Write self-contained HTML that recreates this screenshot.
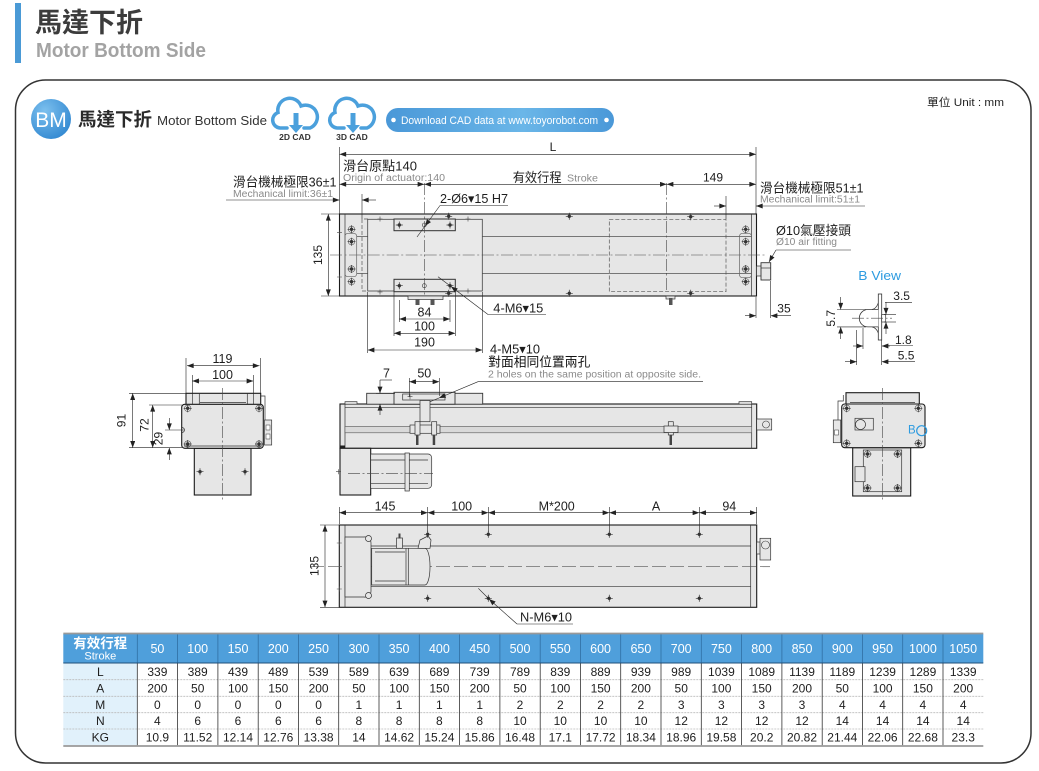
<!DOCTYPE html>
<html><head><meta charset="utf-8"><style>
html,body{margin:0;padding:0;background:#fff;}
svg{display:block;}
text{font-family:"Liberation Sans","Noto Sans CJK TC",sans-serif;fill:#1e1e1e;}
.o{stroke:#1a1a1a;stroke-width:1.1;fill:#e6e6e6;}
.t{stroke:#333;stroke-width:0.7;fill:none;}
.tf{stroke:#333;stroke-width:0.7;fill:#e6e6e6;}
.d{stroke:#222;stroke-width:0.6;fill:none;}
.c{stroke:#444;stroke-width:0.6;stroke-dasharray:12 2.5 2 2.5;fill:none;}
.ds{stroke:#555;stroke-width:0.7;stroke-dasharray:4 2;fill:none;}
.g{fill:#8a8a8a;}
.w{fill:#fff;}
</style></head><body>
<svg width="1039" height="771" viewBox="0 0 1039 771" xmlns="http://www.w3.org/2000/svg">
<defs>
<marker id="a" viewBox="0 0 8 6" refX="8" refY="3" markerWidth="7" markerHeight="5" markerUnits="userSpaceOnUse" orient="auto-start-reverse"><path d="M0,0L8,3L0,6z" fill="#222"/></marker>
<g id="h"><circle r="1.7" fill="#333"/><path d="M-3.5,0H3.5M0,-3.5V3.5" stroke="#333" stroke-width="0.7"/></g>
<g id="hr"><circle r="3.2" fill="none" stroke="#555" stroke-width="0.6"/><circle r="1.7" fill="#333"/><path d="M-4,0H4M0,-4V4" stroke="#333" stroke-width="0.7"/></g>
<g id="x"><path d="M-2.5,0H2.5M0,-2.5V2.5" stroke="#444" stroke-width="0.6"/></g>
<radialGradient id="bm" cx="0.35" cy="0.3" r="0.8"><stop offset="0" stop-color="#7cc0ee"/><stop offset="1" stop-color="#2f86d0"/></radialGradient>
<linearGradient id="pill" x1="0" x2="1" y1="0" y2="0"><stop offset="0" stop-color="#4a98d8"/><stop offset="0.6" stop-color="#6ab6e8"/><stop offset="1" stop-color="#4a98d8"/></linearGradient>
</defs>

<!-- Header -->
<rect x="15" y="3" width="6" height="60" fill="#4a9ad6"/>
<text x="35" y="32" font-size="27" font-weight="bold" fill="#3c3c3c" style="fill:#3c3c3c">馬達下折</text>
<text x="36" y="57" font-size="20" font-weight="bold" style="fill:#a3a3a3" textLength="170" lengthAdjust="spacingAndGlyphs">Motor Bottom Side</text>

<!-- Frame -->
<rect x="15.5" y="80" width="1015.5" height="683" rx="30" fill="none" stroke="#333" stroke-width="1.5"/>
<text x="927" y="106" font-size="11" textLength="77" lengthAdjust="spacingAndGlyphs">單位 Unit : mm</text>

<!-- BM row -->
<circle cx="51" cy="119" r="20" fill="url(#bm)"/>
<text x="51" y="127" font-size="21" text-anchor="middle" class="w" style="fill:#fff">BM</text>
<text x="78" y="126" font-size="18.5" font-weight="bold" style="fill:#2a2a2a">馬達下折</text>
<text x="157" y="125" font-size="13" style="fill:#333" textLength="110" lengthAdjust="spacingAndGlyphs">Motor Bottom Side</text>
<g stroke="#4ba0dc" stroke-width="3.5" fill="none" stroke-linecap="round">
<path d="M287,128H280A8,8 0 0 1 278,112.5A12,12 0 0 1 301,106A11,11 0 0 1 310,128H304"/>
<path transform="translate(57,0)" d="M287,128H280A8,8 0 0 1 278,112.5A12,12 0 0 1 301,106A11,11 0 0 1 310,128H304"/>
</g>
<g fill="#4ba0dc">
<rect x="293.5" y="113" width="5" height="13"/><path d="M289,125H303L296,133z"/>
<rect x="350.5" y="113" width="5" height="13"/><path d="M346,125H360L353,133z"/>
</g>
<text x="295" y="140" font-size="8.5" font-weight="bold" text-anchor="middle" style="fill:#333">2D CAD</text>
<text x="352" y="140" font-size="8.5" font-weight="bold" text-anchor="middle" style="fill:#333">3D CAD</text>
<rect x="386" y="108" width="228" height="24" rx="12" fill="url(#pill)"/>
<circle cx="393.5" cy="120" r="2.3" fill="#fff"/><circle cx="606.5" cy="120" r="2.3" fill="#fff"/>
<text x="401" y="124" font-size="11" style="fill:#fff" textLength="197" lengthAdjust="spacingAndGlyphs">Download CAD data at www.toyorobot.com</text>

<!-- ============ TOP VIEW ============ -->
<rect class="o" x="339.5" y="214" width="417" height="82"/>
<line class="t" x1="345" y1="214" x2="345" y2="296"/>
<line class="t" x1="751.5" y1="214" x2="751.5" y2="296"/>
<line class="t" x1="357" y1="236.7" x2="751.5" y2="236.7"/>
<line class="t" x1="357" y1="273.3" x2="751.5" y2="273.3"/>
<line class="c" x1="330" y1="255" x2="766" y2="255"/>
<path class="ds" d="M368,219H362V291H368"/>
<rect class="ds" x="609.3" y="219.3" width="116.7" height="72.4"/>
<rect x="367.7" y="219.3" width="114.6" height="71.7" fill="#e9e9e9" stroke="#444" stroke-width="0.8"/>
<line class="c" x1="367.7" y1="255" x2="482.3" y2="255"/>
<rect class="tf" x="394" y="219" width="61.3" height="11.7" style="stroke-width:1"/>
<rect class="tf" x="394" y="279.3" width="61.3" height="12.4" style="stroke-width:1"/>
<line class="c" x1="424.3" y1="183" x2="424.3" y2="296"/>
<line class="c" x1="666.7" y1="183" x2="666.7" y2="292"/>
<use href="#h" x="399.3" y="225"/><use href="#h" x="450" y="225"/>
<use href="#h" x="399.3" y="285.7"/><use href="#h" x="450" y="285.7"/>
<circle cx="424.3" cy="225" r="2" fill="none" stroke="#333" stroke-width="0.6"/>
<circle cx="424.3" cy="285.7" r="2" fill="none" stroke="#333" stroke-width="0.6"/>
<use href="#x" x="380" y="219"/><use href="#x" x="468" y="219"/><use href="#h" x="448.7" y="216.3"/>
<use href="#x" x="380" y="292"/><use href="#x" x="468" y="291"/><use href="#h" x="448.7" y="293.3"/>
<use href="#h" x="569.3" y="216.3"/><use href="#h" x="569.3" y="293.3"/>
<use href="#h" x="690.7" y="216.7"/><use href="#h" x="690.7" y="293.3"/>
<rect x="345" y="233.3" width="11.7" height="43.4" rx="3" fill="none" stroke="#666" stroke-width="0.7"/>
<rect x="739.5" y="233.3" width="12" height="44.4" rx="3" fill="none" stroke="#666" stroke-width="0.7"/>
<use href="#hr" x="351.5" y="229.3"/><use href="#hr" x="351.5" y="241.7"/><use href="#hr" x="351.5" y="269"/><use href="#hr" x="351.5" y="281.7"/>
<use href="#hr" x="745.7" y="229.3"/><use href="#hr" x="745.7" y="241.7"/><use href="#hr" x="745.7" y="269"/><use href="#hr" x="745.7" y="281.7"/>
<use href="#x" x="339.5" y="232.7"/><use href="#x" x="339.5" y="277"/>
<!-- air fitting -->
<rect class="tf" x="756.5" y="266" width="5" height="10"/>
<rect class="tf" x="761" y="262.7" width="9.7" height="17.3" style="stroke-width:0.9"/>
<line class="t" x1="761" y1="268" x2="770.7" y2="268"/>
<!-- bottom protrusions -->
<rect class="tf" x="408" y="296" width="35" height="3.5"/>
<rect x="415.5" y="299" width="4" height="6" fill="#555"/><rect x="430.5" y="299" width="4" height="6" fill="#555"/>
<rect class="tf" x="666" y="296" width="9" height="3"/><rect x="669" y="298" width="3.5" height="7" fill="#555"/>

<!-- top view dims -->
<line class="d" x1="339.5" y1="147" x2="339.5" y2="214"/>
<line class="d" x1="756" y1="147" x2="756" y2="214"/>
<line class="d" x1="339.5" y1="154.3" x2="756" y2="154.3" marker-start="url(#a)" marker-end="url(#a)"/>
<text x="553" y="151" font-size="12" text-anchor="middle">L</text>
<line class="d" x1="339.5" y1="184.3" x2="424.3" y2="184.3" marker-start="url(#a)" marker-end="url(#a)"/>
<line class="d" x1="424.3" y1="184.3" x2="666.7" y2="184.3" marker-start="url(#a)" marker-end="url(#a)"/>
<line class="d" x1="666.7" y1="184.3" x2="756" y2="184.3" marker-start="url(#a)" marker-end="url(#a)"/>
<text x="343" y="170.5" font-size="13" textLength="74" lengthAdjust="spacingAndGlyphs">滑台原點140</text>
<text x="343" y="181" font-size="10" class="g" style="fill:#8a8a8a" textLength="102" lengthAdjust="spacingAndGlyphs">Origin of actuator:140</text>
<text x="512.7" y="182" font-size="13" textLength="49" lengthAdjust="spacingAndGlyphs">有效行程</text>
<text x="567" y="181.5" font-size="10" style="fill:#8a8a8a" textLength="31" lengthAdjust="spacingAndGlyphs">Stroke</text>
<text x="713" y="181.5" font-size="12" text-anchor="middle">149</text>
<text x="233" y="186.7" font-size="13" textLength="103.5" lengthAdjust="spacingAndGlyphs">滑台機械極限36±1</text>
<text x="233" y="197" font-size="10" style="fill:#8a8a8a" textLength="100" lengthAdjust="spacingAndGlyphs">Mechanical limit:36±1</text>
<line class="d" x1="226" y1="200" x2="339.5" y2="200" marker-end="url(#a)"/>
<line class="d" x1="376" y1="200" x2="362" y2="200" marker-end="url(#a)"/>
<line class="d" x1="362" y1="194" x2="362" y2="219"/>
<text x="760" y="192.3" font-size="13" textLength="103.5" lengthAdjust="spacingAndGlyphs">滑台機械極限51±1</text>
<text x="760" y="202.7" font-size="10" style="fill:#8a8a8a" textLength="100" lengthAdjust="spacingAndGlyphs">Mechanical limit:51±1</text>
<line class="d" x1="865" y1="206" x2="756" y2="206" marker-end="url(#a)"/>
<line class="d" x1="714" y1="206" x2="726" y2="206" marker-end="url(#a)"/>
<line class="d" x1="726" y1="196" x2="726" y2="219"/>
<text x="440" y="203" font-size="13" textLength="68" lengthAdjust="spacingAndGlyphs">2-Ø6▾15 H7</text>
<line class="d" x1="508" y1="205.5" x2="440" y2="205.5"/>
<line class="d" x1="440" y1="205.5" x2="425" y2="226" marker-end="url(#a)"/>
<line class="d" x1="425" y1="226" x2="417" y2="237"/>
<text x="493.3" y="312.7" font-size="13" textLength="50" lengthAdjust="spacingAndGlyphs">4-M6▾15</text>
<line class="d" x1="546" y1="314.5" x2="488" y2="314.5"/>
<line class="d" x1="488" y1="314.5" x2="451" y2="286.5" marker-end="url(#a)"/>
<line class="d" x1="451" y1="286.5" x2="438" y2="276.7"/>
<!-- 135 -->
<line class="d" x1="321" y1="214" x2="339" y2="214"/><line class="d" x1="321" y1="296" x2="339" y2="296"/>
<line class="d" x1="328.3" y1="214" x2="328.3" y2="296" marker-start="url(#a)" marker-end="url(#a)"/>
<text x="322" y="255" font-size="12" text-anchor="middle" transform="rotate(-90 322 255)">135</text>
<!-- 84/100/190 -->
<line class="d" x1="399.3" y1="300" x2="399.3" y2="322"/><line class="d" x1="450" y1="300" x2="450" y2="322"/>
<line class="d" x1="394" y1="292" x2="394" y2="336"/><line class="d" x1="455.3" y1="292" x2="455.3" y2="336"/>
<line class="d" x1="367.7" y1="292" x2="367.7" y2="353"/><line class="d" x1="482.3" y1="292" x2="482.3" y2="353"/>
<line class="d" x1="399.3" y1="319" x2="450" y2="319" marker-start="url(#a)" marker-end="url(#a)"/>
<line class="d" x1="394" y1="333.3" x2="455.3" y2="333.3" marker-start="url(#a)" marker-end="url(#a)"/>
<line class="d" x1="367.7" y1="350" x2="482.3" y2="350" marker-start="url(#a)" marker-end="url(#a)"/>
<text x="424.5" y="316.5" font-size="12.5" text-anchor="middle">84</text>
<text x="424.5" y="330.5" font-size="12.5" text-anchor="middle">100</text>
<text x="424.5" y="346.5" font-size="12.5" text-anchor="middle">190</text>
<!-- air fitting label, 35 -->
<text x="776" y="235" font-size="13" textLength="75" lengthAdjust="spacingAndGlyphs">Ø10氣壓接頭</text>
<text x="776" y="245" font-size="10" style="fill:#8a8a8a" textLength="61" lengthAdjust="spacingAndGlyphs">Ø10 air fitting</text>
<line class="d" x1="851" y1="250" x2="776" y2="250"/>
<line class="d" x1="776" y1="250" x2="769" y2="262" marker-end="url(#a)"/>
<line class="d" x1="756" y1="297" x2="756" y2="318"/><line class="d" x1="770.7" y1="281" x2="770.7" y2="318"/>
<line class="d" x1="745" y1="315.7" x2="756" y2="315.7" marker-end="url(#a)"/>
<line class="d" x1="791" y1="315.7" x2="770.7" y2="315.7" marker-end="url(#a)"/>
<text x="777.3" y="312.7" font-size="12">35</text>

<!-- B view detail -->
<text x="858.3" y="280" font-size="13" style="fill:#2d9be0" textLength="42.7" lengthAdjust="spacingAndGlyphs">B View</text>
<rect x="878.3" y="294" width="3.4" height="46" fill="#fff" stroke="#333" stroke-width="0.8"/>
<path d="M878.3,309.5H868A8.7,8.7 0 0 0 868,326.9H878.3" fill="#fff" stroke="#333" stroke-width="0.8"/>
<path d="M872,309.5Q876,309 878.3,303M872,326.9Q876,327.5 878.3,333" fill="none" stroke="#333" stroke-width="0.7"/>
<rect x="881.7" y="314.5" width="4" height="7.5" fill="#fff" stroke="#333" stroke-width="0.7"/>
<line class="c" x1="852" y1="318.2" x2="892" y2="318.2"/>
<line class="d" x1="837" y1="309.5" x2="866" y2="309.5"/><line class="d" x1="837" y1="326.9" x2="866" y2="326.9"/>
<line class="d" x1="840.7" y1="297" x2="840.7" y2="309.5" marker-end="url(#a)"/>
<line class="d" x1="840.7" y1="339" x2="840.7" y2="326.9" marker-end="url(#a)"/>
<text x="835" y="318.3" font-size="12" text-anchor="middle" transform="rotate(-90 835 318.3)">5.7</text>
<line class="d" x1="884" y1="314.5" x2="896" y2="314.5"/><line class="d" x1="884" y1="322" x2="896" y2="322"/>
<line class="d" x1="885" y1="302.3" x2="912" y2="302.3"/>
<line class="d" x1="886" y1="302.3" x2="886" y2="314.5" marker-end="url(#a)"/>
<line class="d" x1="886" y1="334" x2="886" y2="322" marker-end="url(#a)"/>
<text x="893.3" y="300" font-size="12">3.5</text>
<line class="d" x1="886" y1="345.5" x2="913" y2="345.5"/>
<text x="895" y="344" font-size="12">1.8</text>
<line class="d" x1="863" y1="328" x2="863" y2="349"/><line class="d" x1="856.7" y1="330" x2="856.7" y2="365"/><line class="d" x1="881.7" y1="340" x2="881.7" y2="365"/>
<line class="d" x1="853" y1="346" x2="863" y2="346" marker-end="url(#a)"/>
<line class="d" x1="890" y1="346" x2="881.7" y2="346" marker-end="url(#a)"/>
<line class="d" x1="845" y1="361.7" x2="856.7" y2="361.7" marker-end="url(#a)"/>
<line class="d" x1="915" y1="361.7" x2="881.7" y2="361.7" marker-end="url(#a)"/>
<text x="897.7" y="359.5" font-size="12">5.5</text>

<!-- ============ LEFT END VIEW ============ -->
<rect class="o" x="186" y="393.3" width="74.7" height="11.7"/>
<line class="t" x1="199.3" y1="393.3" x2="199.3" y2="405"/><line class="t" x1="247.3" y1="393.3" x2="247.3" y2="405"/>
<line class="t" x1="200" y1="402.5" x2="246" y2="402.5"/>
<rect class="o" x="194.3" y="448.3" width="56.7" height="46.7"/>
<rect class="o" x="181.7" y="404.3" width="81.6" height="44" rx="3"/>
<line class="t" x1="184" y1="446" x2="261" y2="446"/>
<use href="#hr" x="187.7" y="408.3"/><use href="#hr" x="259" y="408.3"/><use href="#hr" x="187.7" y="444"/><use href="#hr" x="259" y="444"/>
<use href="#h" x="200" y="471.7"/><use href="#h" x="245" y="471.7"/>
<path d="M182,427.5A2.5,2.5 0 0 1 182,432.5" class="t"/>
<line class="c" x1="222.7" y1="388" x2="222.7" y2="500"/>
<path d="M260.7,396H265V420" class="t"/>
<rect class="tf" x="264.5" y="420" width="7.2" height="25"/>
<rect x="266" y="425" width="4" height="5" fill="#fff" stroke="#333" stroke-width="0.5"/>
<rect x="266" y="434" width="4" height="5" fill="#fff" stroke="#333" stroke-width="0.5"/>
<!-- dims -->
<line class="d" x1="186" y1="358" x2="186" y2="393"/><line class="d" x1="260.7" y1="358" x2="260.7" y2="393"/>
<line class="d" x1="192.3" y1="375" x2="192.3" y2="404"/><line class="d" x1="253.3" y1="375" x2="253.3" y2="404"/>
<line class="d" x1="187" y1="365.7" x2="259.5" y2="365.7" marker-start="url(#a)" marker-end="url(#a)"/>
<line class="d" x1="192.3" y1="381" x2="253.3" y2="381" marker-start="url(#a)" marker-end="url(#a)"/>
<text x="222.5" y="363" font-size="12.5" text-anchor="middle">119</text>
<text x="222.5" y="379" font-size="12.5" text-anchor="middle">100</text>
<line class="d" x1="129" y1="393.3" x2="186" y2="393.3"/><line class="d" x1="129" y1="447.7" x2="182" y2="447.7"/>
<line class="d" x1="149" y1="405" x2="182" y2="405"/><line class="d" x1="165" y1="430" x2="184" y2="430"/>
<line class="d" x1="132.7" y1="393.3" x2="132.7" y2="447.7" marker-start="url(#a)" marker-end="url(#a)"/>
<line class="d" x1="152.7" y1="405" x2="152.7" y2="447.7" marker-start="url(#a)" marker-end="url(#a)"/>
<line class="d" x1="169.3" y1="418" x2="169.3" y2="430" marker-end="url(#a)"/>
<line class="d" x1="169.3" y1="460" x2="169.3" y2="447.7" marker-end="url(#a)"/>
<text x="125.5" y="420.5" font-size="12" text-anchor="middle" transform="rotate(-90 125.5 420.5)">91</text>
<text x="148.5" y="425" font-size="12" text-anchor="middle" transform="rotate(-90 148.5 425)">72</text>
<text x="162.5" y="438.5" font-size="12" text-anchor="middle" transform="rotate(-90 162.5 438.5)">29</text>

<!-- ============ MIDDLE SIDE VIEW ============ -->
<rect class="o" x="340" y="404" width="416.7" height="44.3"/>
<rect class="tf" x="345" y="401.7" width="12" height="2.5"/>
<rect class="tf" x="739" y="401.7" width="12.7" height="2.5"/>
<line class="t" x1="345" y1="404" x2="345" y2="448.3"/>
<line class="t" x1="751.7" y1="404" x2="751.7" y2="448.3"/>
<line class="t" x1="345" y1="407.7" x2="751.7" y2="407.7"/>
<rect x="345" y="426.3" width="406.7" height="6.5" fill="#d9d9d9" stroke="#555" stroke-width="0.6"/>
<rect x="340" y="445.5" width="5" height="3" fill="#222"/>
<!-- carriage -->
<rect class="tf" x="366.7" y="393.3" width="116" height="10.9" style="stroke-width:0.9"/>
<rect class="tf" x="394" y="392.3" width="61" height="11.9" style="stroke-width:0.9"/>
<rect class="t" x="402.7" y="394" width="42.3" height="6"/>
<use href="#x" x="410" y="396.7"/>
<rect class="tf" x="420" y="400.5" width="10" height="21.2"/>
<rect class="tf" x="410" y="425" width="30" height="8.3"/>
<rect class="tf" x="415" y="421.7" width="5" height="13.3"/><rect x="416" y="435" width="2.5" height="10" fill="#444"/>
<rect class="tf" x="431.7" y="421.7" width="5" height="13.3"/><rect x="432.7" y="435" width="2.5" height="10" fill="#444"/>
<rect class="tf" x="668.3" y="421.7" width="5" height="13.3"/><rect x="669.5" y="435" width="2.5" height="10" fill="#444"/>
<rect class="tf" x="664" y="426" width="14" height="6.5"/>
<!-- motor -->
<rect class="o" x="340" y="448.3" width="30.7" height="46.7"/>
<path class="tf" d="M370.7,454H428A3.7,3.7 0 0 1 431.7,457.7V484.6A3.7,3.7 0 0 1 428,488.3H370.7z"/>
<line class="t" x1="370.7" y1="460" x2="428" y2="460"/><line class="t" x1="370.7" y1="483.3" x2="428" y2="483.3"/>
<rect class="tf" x="405" y="453" width="4.3" height="38"/>
<line class="c" x1="348" y1="473.3" x2="433" y2="473.3"/>
<use href="#x" x="338.5" y="471.7"/>
<!-- air fitting -->
<rect class="tf" x="756.7" y="419" width="15" height="11"/>
<circle cx="766" cy="424.5" r="3.5" fill="none" stroke="#333" stroke-width="0.6"/>
<!-- dims -->
<line class="d" x1="376" y1="393.3" x2="395" y2="393.3"/>
<line class="d" x1="380" y1="380" x2="392" y2="380"/>
<line class="d" x1="380" y1="380" x2="380" y2="393.3" marker-end="url(#a)"/>
<line class="d" x1="380" y1="415" x2="380" y2="404" marker-end="url(#a)"/>
<text x="383" y="377.7" font-size="12.5">7</text>
<line class="d" x1="409.3" y1="378" x2="409.3" y2="396.7"/><line class="d" x1="439.3" y1="378" x2="439.3" y2="396"/>
<line class="d" x1="409.3" y1="381.7" x2="439.3" y2="381.7" marker-start="url(#a)" marker-end="url(#a)"/>
<text x="424.3" y="377.7" font-size="12.5" text-anchor="middle">50</text>
<text x="490" y="353.3" font-size="13" textLength="50" lengthAdjust="spacingAndGlyphs">4-M5▾10</text>
<text x="488.3" y="366.7" font-size="13" textLength="102" lengthAdjust="spacingAndGlyphs" style="fill:#111">對面相同位置兩孔</text>
<text x="488" y="377.5" font-size="10" style="fill:#8a8a8a" textLength="213" lengthAdjust="spacingAndGlyphs">2 holes on the same position at opposite side.</text>
<line class="d" x1="703" y1="381.7" x2="478" y2="381.7"/>
<line class="d" x1="478" y1="381.7" x2="439" y2="398" marker-end="url(#a)"/>
<line class="d" x1="439" y1="398" x2="430" y2="401.7"/>

<!-- ============ RIGHT (B) END VIEW ============ -->
<rect class="o" x="846" y="392.7" width="73.3" height="11.6"/>
<line class="t" x1="850" y1="402.5" x2="915" y2="402.5"/>
<rect class="o" x="852.7" y="447.7" width="58" height="48.3"/>
<rect class="t" x="863.3" y="450" width="38.4" height="41.7"/>
<use href="#hr" x="867.5" y="454"/><use href="#hr" x="897.5" y="454"/><use href="#hr" x="867.5" y="488"/><use href="#hr" x="897.5" y="488"/>
<rect class="tf" x="855" y="466.7" width="10" height="15"/>
<rect class="o" x="841.7" y="404" width="83.3" height="43.7" rx="3"/>
<use href="#hr" x="846.7" y="408.3"/><use href="#hr" x="918.3" y="408.3"/><use href="#hr" x="846.7" y="443.3"/><use href="#hr" x="918.3" y="443.3"/>
<line class="c" x1="882.3" y1="388" x2="882.3" y2="500"/>
<rect class="tf" x="855" y="418.3" width="18.3" height="11.7"/>
<circle cx="860.5" cy="424.5" r="5" fill="#e6e6e6" stroke="#333" stroke-width="0.7"/>
<path d="M843.3,395V401H838V420" class="t"/>
<rect class="tf" x="833.3" y="420" width="7.4" height="22.7"/>
<rect x="834.5" y="430" width="4" height="5" fill="#fff" stroke="#333" stroke-width="0.5"/>
<text x="908" y="433.5" font-size="11.5" style="fill:#2d9be0">B</text>
<circle cx="921.7" cy="430.7" r="5" fill="none" stroke="#2d9be0" stroke-width="1.2"/>

<!-- ============ BOTTOM VIEW ============ -->
<rect class="o" x="339.3" y="525" width="417.4" height="82.3"/>
<line class="t" x1="345" y1="525" x2="345" y2="607.3"/>
<line class="t" x1="750.7" y1="525" x2="750.7" y2="607.3"/>
<line class="t" x1="371" y1="546" x2="750.7" y2="546"/>
<line class="t" x1="371" y1="586.7" x2="750.7" y2="586.7"/>
<line class="ds" x1="310" y1="566.7" x2="770" y2="566.7" style="stroke-dasharray:14 4"/>
<path class="tf" d="M345,537H364A6,6 0 0 1 371,543V591A6,6 0 0 1 364,597H345z"/>
<circle cx="368.5" cy="538.5" r="3" class="tf"/><circle cx="368.5" cy="595.5" r="3" class="tf"/>
<path class="tf" d="M371.7,548.3H425A5,18 0 0 1 430,566.7A5,18 0 0 1 425,585H371.7z"/>
<line class="t" x1="406" y1="548.3" x2="406" y2="585"/><line class="t" x1="408.3" y1="548.3" x2="408.3" y2="585"/>
<line class="t" x1="375" y1="552" x2="405" y2="552"/><line class="t" x1="375" y1="581" x2="405" y2="581"/>
<rect class="tf" x="396.5" y="538" width="6" height="10.3"/><rect x="398.5" y="533.5" width="2" height="5" fill="#444"/>
<path class="tf" d="M418,548.3L420,540L428,536L431,540L430,548.3z"/>
<use href="#x" x="339.3" y="543"/><use href="#x" x="339.3" y="589"/>
<use href="#h" x="427.7" y="534.3"/><use href="#h" x="488.3" y="534.3"/><use href="#h" x="609.3" y="534.3"/><use href="#h" x="699.3" y="534.3"/>
<use href="#h" x="427.7" y="598.3"/><use href="#h" x="488.3" y="598.3"/><use href="#h" x="609.3" y="598.3"/><use href="#h" x="699.3" y="598.3"/>
<rect class="tf" x="756.7" y="542" width="5" height="12"/>
<rect class="tf" x="760" y="538.3" width="10.7" height="21.7"/>
<circle cx="765.5" cy="545" r="4" fill="none" stroke="#333" stroke-width="0.6"/>
<!-- chain dims -->
<g class="d">
<line x1="339.3" y1="507" x2="339.3" y2="524"/><line x1="427.7" y1="507" x2="427.7" y2="532"/>
<line x1="488.3" y1="507" x2="488.3" y2="532"/><line x1="609.3" y1="507" x2="609.3" y2="532"/>
<line x1="699.3" y1="507" x2="699.3" y2="532"/><line x1="756.7" y1="507" x2="756.7" y2="524"/>
</g>
<line class="d" x1="339.3" y1="512.7" x2="427.7" y2="512.7" marker-start="url(#a)" marker-end="url(#a)"/>
<line class="d" x1="427.7" y1="512.7" x2="488.3" y2="512.7" marker-start="url(#a)" marker-end="url(#a)"/>
<line class="d" x1="488.3" y1="512.7" x2="609.3" y2="512.7" marker-start="url(#a)" marker-end="url(#a)"/>
<line class="d" x1="609.3" y1="512.7" x2="699.3" y2="512.7" marker-start="url(#a)" marker-end="url(#a)"/>
<line class="d" x1="699.3" y1="512.7" x2="756.7" y2="512.7" marker-start="url(#a)" marker-end="url(#a)"/>
<text x="385" y="510.5" font-size="12.5" text-anchor="middle">145</text>
<text x="461.7" y="510.5" font-size="12.5" text-anchor="middle">100</text>
<text x="556.7" y="510.5" font-size="12.5" text-anchor="middle">M*200</text>
<text x="656" y="510.5" font-size="12.5" text-anchor="middle">A</text>
<text x="729.3" y="510.5" font-size="12.5" text-anchor="middle">94</text>
<line class="d" x1="320" y1="525" x2="339" y2="525"/><line class="d" x1="320" y1="607.3" x2="339" y2="607.3"/>
<line class="d" x1="325" y1="525" x2="325" y2="607.3" marker-start="url(#a)" marker-end="url(#a)"/>
<text x="318.5" y="566" font-size="12" text-anchor="middle" transform="rotate(-90 318.5 566)">135</text>
<text x="520" y="621.7" font-size="13" textLength="52" lengthAdjust="spacingAndGlyphs">N-M6▾10</text>
<line class="d" x1="573" y1="624" x2="517" y2="624"/>
<line class="d" x1="517" y1="624" x2="489" y2="599" marker-end="url(#a)"/>
<line class="d" x1="489" y1="599" x2="478.3" y2="588.3"/>

<!-- ============ TABLE ============ -->
<rect x="63.3" y="634" width="920" height="29" fill="#4f9fdb"/>
<rect x="63.3" y="663" width="74" height="82.3" fill="#e1f1fb"/>
<g stroke="#2f6fa3" stroke-width="0.8">
<line x1="137.3" y1="634" x2="137.3" y2="663"/><line x1="177.6" y1="634" x2="177.6" y2="663"/><line x1="217.9" y1="634" x2="217.9" y2="663"/><line x1="258.2" y1="634" x2="258.2" y2="663"/><line x1="298.4" y1="634" x2="298.4" y2="663"/><line x1="338.7" y1="634" x2="338.7" y2="663"/><line x1="379" y1="634" x2="379" y2="663"/><line x1="419.3" y1="634" x2="419.3" y2="663"/><line x1="459.6" y1="634" x2="459.6" y2="663"/><line x1="499.9" y1="634" x2="499.9" y2="663"/><line x1="540.2" y1="634" x2="540.2" y2="663"/><line x1="580.4" y1="634" x2="580.4" y2="663"/><line x1="620.7" y1="634" x2="620.7" y2="663"/><line x1="661" y1="634" x2="661" y2="663"/><line x1="701.3" y1="634" x2="701.3" y2="663"/><line x1="741.6" y1="634" x2="741.6" y2="663"/><line x1="781.9" y1="634" x2="781.9" y2="663"/><line x1="822.2" y1="634" x2="822.2" y2="663"/><line x1="862.4" y1="634" x2="862.4" y2="663"/><line x1="902.7" y1="634" x2="902.7" y2="663"/><line x1="943" y1="634" x2="943" y2="663"/>
</g>
<g stroke="#bbb" stroke-width="0.8" stroke-dasharray="2 1">
<line x1="63.3" y1="679.7" x2="983.3" y2="679.7"/><line x1="63.3" y1="696.3" x2="983.3" y2="696.3"/><line x1="63.3" y1="712.7" x2="983.3" y2="712.7"/><line x1="63.3" y1="729" x2="983.3" y2="729"/>
</g>
<g stroke="#333" stroke-width="0.8">
<line x1="137.3" y1="663" x2="137.3" y2="745.3"/><line x1="177.6" y1="663" x2="177.6" y2="745.3"/><line x1="217.9" y1="663" x2="217.9" y2="745.3"/><line x1="258.2" y1="663" x2="258.2" y2="745.3"/><line x1="298.4" y1="663" x2="298.4" y2="745.3"/><line x1="338.7" y1="663" x2="338.7" y2="745.3"/><line x1="379" y1="663" x2="379" y2="745.3"/><line x1="419.3" y1="663" x2="419.3" y2="745.3"/><line x1="459.6" y1="663" x2="459.6" y2="745.3"/><line x1="499.9" y1="663" x2="499.9" y2="745.3"/><line x1="540.2" y1="663" x2="540.2" y2="745.3"/><line x1="580.4" y1="663" x2="580.4" y2="745.3"/><line x1="620.7" y1="663" x2="620.7" y2="745.3"/><line x1="661" y1="663" x2="661" y2="745.3"/><line x1="701.3" y1="663" x2="701.3" y2="745.3"/><line x1="741.6" y1="663" x2="741.6" y2="745.3"/><line x1="781.9" y1="663" x2="781.9" y2="745.3"/><line x1="822.2" y1="663" x2="822.2" y2="745.3"/><line x1="862.4" y1="663" x2="862.4" y2="745.3"/><line x1="902.7" y1="663" x2="902.7" y2="745.3"/><line x1="943" y1="663" x2="943" y2="745.3"/>
</g>
<line x1="63.3" y1="663" x2="983.3" y2="663" stroke="#1f4f7a" stroke-width="1"/>
<line x1="63.3" y1="633.5" x2="983.3" y2="633.5" stroke="#999" stroke-width="1.8"/>
<line x1="63.3" y1="746" x2="983.3" y2="746" stroke="#999" stroke-width="1.8"/>

<text x="100.3" y="648" font-size="13.5" font-weight="bold" text-anchor="middle" style="fill:#fff">有效行程</text>
<text x="100.3" y="659.5" font-size="11" text-anchor="middle" style="fill:#fff">Stroke</text>
<g font-size="12" text-anchor="middle">
<text x="100.3" y="675.8">L</text><text x="100.3" y="692.4">A</text><text x="100.3" y="708.8">M</text><text x="100.3" y="725.2">N</text><text x="100.3" y="741.5">KG</text>
</g>
<g font-size="12.5" text-anchor="middle" style="fill:#fff">
<text x="157.4" y="653" style="fill:#fff">50</text><text x="197.7" y="653" style="fill:#fff">100</text><text x="238" y="653" style="fill:#fff">150</text><text x="278.3" y="653" style="fill:#fff">200</text><text x="318.6" y="653" style="fill:#fff">250</text><text x="358.9" y="653" style="fill:#fff">300</text><text x="399.1" y="653" style="fill:#fff">350</text><text x="439.4" y="653" style="fill:#fff">400</text><text x="479.7" y="653" style="fill:#fff">450</text><text x="520" y="653" style="fill:#fff">500</text><text x="560.3" y="653" style="fill:#fff">550</text><text x="600.6" y="653" style="fill:#fff">600</text><text x="640.9" y="653" style="fill:#fff">650</text><text x="681.2" y="653" style="fill:#fff">700</text><text x="721.4" y="653" style="fill:#fff">750</text><text x="761.7" y="653" style="fill:#fff">800</text><text x="802" y="653" style="fill:#fff">850</text><text x="842.3" y="653" style="fill:#fff">900</text><text x="882.6" y="653" style="fill:#fff">950</text><text x="922.9" y="653" style="fill:#fff">1000</text><text x="963.2" y="653" style="fill:#fff">1050</text>
</g>
<g font-size="12" text-anchor="middle">
<text x="157.4" y="675.8">339</text><text x="197.7" y="675.8">389</text><text x="238" y="675.8">439</text><text x="278.3" y="675.8">489</text><text x="318.6" y="675.8">539</text><text x="358.9" y="675.8">589</text><text x="399.1" y="675.8">639</text><text x="439.4" y="675.8">689</text><text x="479.7" y="675.8">739</text><text x="520" y="675.8">789</text><text x="560.3" y="675.8">839</text><text x="600.6" y="675.8">889</text><text x="640.9" y="675.8">939</text><text x="681.2" y="675.8">989</text><text x="721.4" y="675.8">1039</text><text x="761.7" y="675.8">1089</text><text x="802" y="675.8">1139</text><text x="842.3" y="675.8">1189</text><text x="882.6" y="675.8">1239</text><text x="922.9" y="675.8">1289</text><text x="963.2" y="675.8">1339</text>

<text x="157.4" y="692.4">200</text><text x="197.7" y="692.4">50</text><text x="238" y="692.4">100</text><text x="278.3" y="692.4">150</text><text x="318.6" y="692.4">200</text><text x="358.9" y="692.4">50</text><text x="399.1" y="692.4">100</text><text x="439.4" y="692.4">150</text><text x="479.7" y="692.4">200</text><text x="520" y="692.4">50</text><text x="560.3" y="692.4">100</text><text x="600.6" y="692.4">150</text><text x="640.9" y="692.4">200</text><text x="681.2" y="692.4">50</text><text x="721.4" y="692.4">100</text><text x="761.7" y="692.4">150</text><text x="802" y="692.4">200</text><text x="842.3" y="692.4">50</text><text x="882.6" y="692.4">100</text><text x="922.9" y="692.4">150</text><text x="963.2" y="692.4">200</text>

<text x="157.4" y="708.8">0</text><text x="197.7" y="708.8">0</text><text x="238" y="708.8">0</text><text x="278.3" y="708.8">0</text><text x="318.6" y="708.8">0</text><text x="358.9" y="708.8">1</text><text x="399.1" y="708.8">1</text><text x="439.4" y="708.8">1</text><text x="479.7" y="708.8">1</text><text x="520" y="708.8">2</text><text x="560.3" y="708.8">2</text><text x="600.6" y="708.8">2</text><text x="640.9" y="708.8">2</text><text x="681.2" y="708.8">3</text><text x="721.4" y="708.8">3</text><text x="761.7" y="708.8">3</text><text x="802" y="708.8">3</text><text x="842.3" y="708.8">4</text><text x="882.6" y="708.8">4</text><text x="922.9" y="708.8">4</text><text x="963.2" y="708.8">4</text>

<text x="157.4" y="725.2">4</text><text x="197.7" y="725.2">6</text><text x="238" y="725.2">6</text><text x="278.3" y="725.2">6</text><text x="318.6" y="725.2">6</text><text x="358.9" y="725.2">8</text><text x="399.1" y="725.2">8</text><text x="439.4" y="725.2">8</text><text x="479.7" y="725.2">8</text><text x="520" y="725.2">10</text><text x="560.3" y="725.2">10</text><text x="600.6" y="725.2">10</text><text x="640.9" y="725.2">10</text><text x="681.2" y="725.2">12</text><text x="721.4" y="725.2">12</text><text x="761.7" y="725.2">12</text><text x="802" y="725.2">12</text><text x="842.3" y="725.2">14</text><text x="882.6" y="725.2">14</text><text x="922.9" y="725.2">14</text><text x="963.2" y="725.2">14</text>

<text x="157.4" y="741.5">10.9</text><text x="197.7" y="741.5">11.52</text><text x="238" y="741.5">12.14</text><text x="278.3" y="741.5">12.76</text><text x="318.6" y="741.5">13.38</text><text x="358.9" y="741.5">14</text><text x="399.1" y="741.5">14.62</text><text x="439.4" y="741.5">15.24</text><text x="479.7" y="741.5">15.86</text><text x="520" y="741.5">16.48</text><text x="560.3" y="741.5">17.1</text><text x="600.6" y="741.5">17.72</text><text x="640.9" y="741.5">18.34</text><text x="681.2" y="741.5">18.96</text><text x="721.4" y="741.5">19.58</text><text x="761.7" y="741.5">20.2</text><text x="802" y="741.5">20.82</text><text x="842.3" y="741.5">21.44</text><text x="882.6" y="741.5">22.06</text><text x="922.9" y="741.5">22.68</text><text x="963.2" y="741.5">23.3</text>
</g>
</svg>
</body></html>
